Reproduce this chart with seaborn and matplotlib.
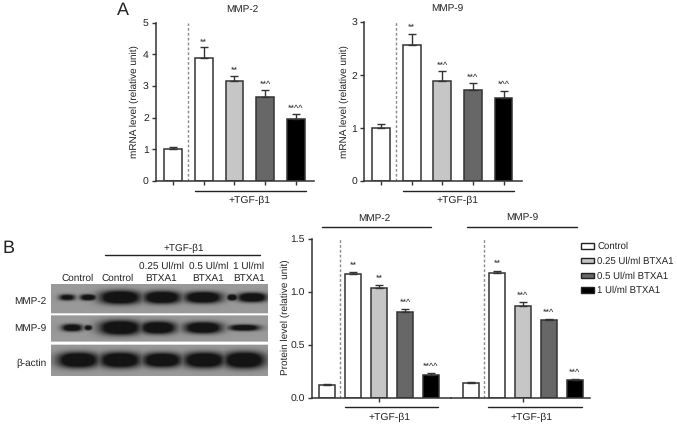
import numpy as np
import pandas as pd
import seaborn as sns
import matplotlib.pyplot as plt
from matplotlib.patches import Patch

W, H = 677, 426

groups = ['Control', '+TGF Control', '0.25 Ul/ml BTXA1', '0.5 Ul/ml BTXA1', '1 Ul/ml BTXA1']
bar_colors = ['#ffffff', '#ffffff', '#c6c6c6', '#676767', '#000000']
legend_labels = ['Control', '0.25 Ul/ml BTXA1', '0.5 Ul/ml BTXA1', '1 Ul/ml BTXA1']
legend_colors = ['#ffffff', '#c6c6c6', '#676767', '#000000']

mrna_mmp2 = [1.0, 3.87, 3.15, 2.65, 1.96]
mrna_mmp2_err = [0.08, 0.35, 0.18, 0.23, 0.15]
mrna_mmp2_marks = ['', '**', '**', '**^', '**^^']

mrna_mmp9 = [1.0, 2.57, 1.89, 1.72, 1.56]
mrna_mmp9_err = [0.07, 0.21, 0.18, 0.12, 0.14]
mrna_mmp9_marks = ['', '**', '**^', '**^', '*^^']

prot_mmp2 = [0.12, 1.17, 1.04, 0.81, 0.22]
prot_mmp2_err = [0.01, 0.02, 0.02, 0.03, 0.02]
prot_mmp2_marks = ['', '**', '**', '**^', '**^^']

prot_mmp9 = [0.14, 1.18, 0.87, 0.73, 0.17]
prot_mmp9_err = [0.01, 0.02, 0.03, 0.01, 0.01]
prot_mmp9_marks = ['', '**', '**^', '**^', '**^']

# blot bands: lane x, half width, half height, darkness
blot_mmp2 = [(67, 8, 3, 0.75), (88, 8, 3, 0.85), (120, 20, 6.5, 1.0), (162, 18, 6, 1.0),
             (203, 18, 5.5, 1.0), (232, 5, 3, 0.9), (252, 14, 4.5, 1.0)]
blot_mmp9 = [(72, 10, 3.5, 0.9), (88, 4, 2.5, 0.8), (120, 20, 7, 1.0), (158, 17, 6, 1.0),
             (203, 18, 5.5, 1.0), (244, 15, 3, 0.9)]
blot_actin = [(78, 20, 7.5, 1.0), (120, 20, 7.5, 1.0), (162, 19, 7, 1.0),
              (204, 20, 7.5, 1.0), (244, 20, 8, 1.0)]

sns.set_theme(style='ticks')
plt.rcParams['font.family'] = ['Liberation Sans', 'DejaVu Sans']
plt.rcParams['text.color'] = '#222222'
plt.rcParams['text.hinting'] = 'no_hinting'

fig = plt.figure(figsize=(W / 100, H / 100), dpi=100)


def px_axes(left, top, right, bottom):
    return fig.add_axes([left / W, 1 - bottom / H, (right - left) / W, (bottom - top) / H])


def txt(x, y, s, size=7.2, **kw):
    fig.text(x / W, 1 - y / H, s, fontsize=size, ha=kw.pop('ha', 'center'), va='center', **kw)


def hline(x0, x1, y, color='#222222', lw=1.0):
    fig.add_artist(plt.Line2D([x0 / W, x1 / W], [1 - y / H, 1 - y / H], color=color, lw=lw))


def bars(ax, values, errs, marks, xlim, ymax, yticks, width, star_gap, left_spine=True):
    df = pd.DataFrame({'group': groups, 'value': values})
    sns.barplot(data=df, x='group', y='value', hue='group', palette=bar_colors, order=groups,
                hue_order=groups, legend=False, width=width, edgecolor='#333333',
                linewidth=1.1, ax=ax, saturation=1)
    pos = np.arange(len(values))
    ax.errorbar(pos, values, yerr=[np.zeros(len(errs)), errs], fmt='none', ecolor='#333333',
                elinewidth=1.0, capsize=2.6, capthick=1.0)
    for p, v, e, m in zip(pos, values, errs, marks):
        if m:
            ax.text(p, v + e + star_gap, m, ha='center', va='center', fontsize=6.5)
    ax.set_xlim(*xlim)
    ax.set_ylim(0, ymax)
    ax.set_xlabel('')
    ax.set_ylabel('')
    ax.patch.set_alpha(0)
    ax.set_yticks(yticks)
    ax.tick_params(axis='both', colors='#333333', labelcolor='#222222', labelsize=7.5,
                   width=1.0, length=3, pad=2)
    sns.despine(ax=ax, left=not left_spine)
    for s in ['left', 'bottom']:
        ax.spines[s].set_linewidth(1.1)
        ax.spines[s].set_color('#333333')
    if not left_spine:
        ax.tick_params(axis='y', left=False, labelleft=False)
    ax.axvline(0.5, color='#8a8a8a', lw=1.0, ls=(0, (2, 1.5)), ymax=1.0)


# panel A
ax = px_axes(155.7, 22.7, 314, 181)
bars(ax, mrna_mmp2, mrna_mmp2_err, mrna_mmp2_marks, (-0.563, 4.59), 5, [0, 1, 2, 3, 4, 5], 0.58, 0.16)
ax.set_xticks(range(5))
ax.set_xticklabels([])

ax = px_axes(364, 22, 522, 181)
bars(ax, mrna_mmp9, mrna_mmp9_err, mrna_mmp9_marks, (-0.553, 4.6), 3, [0, 1, 2, 3], 0.58, 0.11)
ax.set_xticks(range(5))
ax.set_xticklabels([])

# panel B, two axes side by side share the baseline
ax = px_axes(312, 238.7, 451, 398)
bars(ax, prot_mmp2, prot_mmp2_err, prot_mmp2_marks, (-0.577, 4.77), 1.5, [0, 0.5, 1.0, 1.5], 0.59, 0.06)
ax.set_xticks([2])
ax.set_xticklabels([])
ax.set_yticklabels(['0.0', '0.5', '1.0', '1.5'])

ax = px_axes(451, 238.7, 590, 398)
bars(ax, prot_mmp9, prot_mmp9_err, prot_mmp9_marks, (-0.77, 4.58), 1.5, [0, 0.5, 1.0, 1.5], 0.59, 0.06,
     left_spine=False)
ax.set_xticks([2])
ax.set_xticklabels([])

# legend
handles = [Patch(facecolor=c, edgecolor='#222222', lw=1.0) for c in legend_colors]
fig.legend(handles, legend_labels, loc='upper left', bbox_to_anchor=(581 / W, 1 - 242 / H),
           frameon=False, fontsize=6.9, handlelength=1.4, handleheight=0.5, handletextpad=0.3,
           labelspacing=0.56, borderpad=0, borderaxespad=0)

# blot
blot_ax = px_axes(51, 284, 268, 376)
xs = np.arange(51, 268, 0.5)
ys = np.arange(284, 376, 0.5)
xx, yy = np.meshgrid(xs, ys)
img = np.ones_like(xx)
for y0, y1, yc, bands in [(284, 314, 298, blot_mmp2), (316, 342, 328, blot_mmp9), (345, 376, 360, blot_actin)]:
    strip = (yy >= y0) & (yy < y1)
    dark = np.zeros_like(xx)
    for bx, hw, hh, d in bands:
        blob = d * np.exp(-((np.abs(xx - bx) / hw) ** 2.5) - ((np.abs(yy - yc) / hh) ** 2.5))
        dark = np.maximum(dark, blob)
    dark = np.clip(dark * 1.7, 0, 1)
    img[strip] = (0.6 - 0.52 * dark)[strip]
blot_ax.imshow(img, cmap='gray', vmin=0, vmax=1, aspect='auto', interpolation='bilinear')
blot_ax.axis('off')

# text
txt(123, 10, 'A', size=13)
txt(9, 248, 'B', size=13)
txt(242, 9, 'MMP-2')
txt(447, 9, 'MMP-9')
txt(134, 102, 'mRNA level (relative unit)', rotation=90)
txt(344, 102, 'mRNA level (relative unit)', rotation=90)
txt(285, 317, 'Protein level (relative unit)', rotation=90)

hline(195, 305.7, 190.7)
txt(250, 200, '+TGF-β1', size=7.5)
hline(403, 514, 190.7)
txt(458, 200, '+TGF-β1', size=7.5)

hline(322, 431, 226.7)
txt(374, 218, 'MMP-2')
hline(467, 577, 226.7)
txt(522, 218, 'MMP-9')
hline(345, 438, 407)
txt(390, 417, '+TGF-β1', size=7.5)
hline(488, 582, 407)
txt(532, 417, '+TGF-β1', size=7.5)

hline(105, 260, 255)
txt(184, 248, '+TGF-β1')
txt(78, 278, 'Control')
txt(118, 278, 'Control')
txt(162, 266, '0.25 Ul/ml')
txt(161, 278, 'BTXA1')
txt(209, 266, '0.5 Ul/ml')
txt(208, 278, 'BTXA1')
txt(249, 266, '1 Ul/ml')
txt(249, 278, 'BTXA1')
txt(30, 301, 'MMP-2')
txt(30, 329, 'MMP-9')
txt(31, 363, 'β-actin')

fig.savefig('out.png', dpi=100)
plt.close(fig)
